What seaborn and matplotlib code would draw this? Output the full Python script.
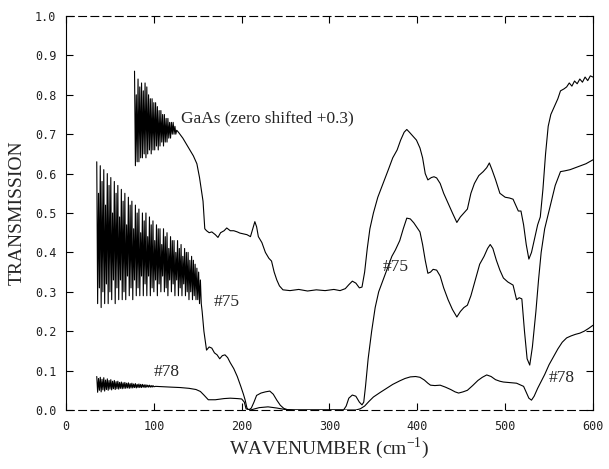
import numpy as np
import pandas as pd
import matplotlib
matplotlib.use("Agg")
import matplotlib.pyplot as plt
import seaborn as sns

# ---------------- data ----------------
# GaAs (zero shifted +0.3): interference fringes, one value per wavenumber 78..126
gaas_osc_x0, gaas_osc_x1 = 78, 126
gaas_osc = [0.86, 0.62, 0.80, 0.63, 0.84, 0.63, 0.82, 0.64, 0.83, 0.64,
            0.81, 0.65, 0.83, 0.64, 0.82, 0.65, 0.80, 0.66, 0.79, 0.65,
            0.79, 0.66, 0.78, 0.66, 0.78, 0.67, 0.77, 0.66, 0.76, 0.67,
            0.76, 0.68, 0.75, 0.67, 0.75, 0.68, 0.74, 0.68, 0.74, 0.69,
            0.73, 0.69, 0.73, 0.70, 0.73, 0.70, 0.72, 0.70, 0.71]
gaas_x = [128, 133, 137, 141, 145, 149, 152, 154, 156, 158, 160, 163, 166, 170,
          173, 176, 180, 183, 187, 191, 195, 198, 202, 206, 210, 212, 215, 217,
          219, 223, 227, 231, 234, 237, 240, 243, 247, 255, 265, 275, 285, 295,
          305, 312, 318, 322, 326, 330, 334, 337, 340, 343, 346, 350, 355, 361,
          367, 372, 377, 381, 385, 388, 391, 395, 399, 403, 406, 409, 412, 416,
          419, 422, 426, 430, 435, 440, 445, 449, 453, 457, 461, 465, 470, 475,
          479, 482, 485, 489, 494, 500, 505, 509, 512, 515, 518, 521, 524, 527,
          530, 534, 537, 540, 543, 546, 549, 552, 556, 560, 563, 567, 570, 573,
          576, 579, 582, 585, 588, 591, 594, 597, 600]
gaas_y = [0.705, 0.69, 0.675, 0.66, 0.645, 0.625, 0.59, 0.56, 0.53, 0.46, 0.455,
          0.45, 0.452, 0.445, 0.438, 0.45, 0.455, 0.462, 0.455, 0.455, 0.452,
          0.449, 0.447, 0.445, 0.44, 0.455, 0.478, 0.465, 0.44, 0.425, 0.40,
          0.385, 0.378, 0.35, 0.33, 0.315, 0.305, 0.303, 0.306, 0.302, 0.305,
          0.303, 0.306, 0.303, 0.308, 0.318, 0.327, 0.322, 0.31, 0.312, 0.35,
          0.41, 0.46, 0.50, 0.54, 0.575, 0.61, 0.64, 0.66, 0.685, 0.705, 0.712,
          0.705, 0.695, 0.685, 0.665, 0.64, 0.60, 0.584, 0.59, 0.592, 0.589,
          0.575, 0.55, 0.525, 0.50, 0.476, 0.49, 0.50, 0.51, 0.55, 0.575, 0.595,
          0.605, 0.615, 0.627, 0.61, 0.585, 0.55, 0.54, 0.538, 0.535, 0.52,
          0.505, 0.505, 0.47, 0.42, 0.383, 0.40, 0.44, 0.47, 0.49, 0.56, 0.65,
          0.72, 0.75, 0.77, 0.79, 0.81, 0.815, 0.82, 0.83, 0.822, 0.835, 0.828,
          0.84, 0.832, 0.845, 0.836, 0.848, 0.845]

# Sample #75: fringes 35..154, one value per wavenumber
s75_osc_x0, s75_osc_x1 = 35, 154
s75_osc = [0.63, 0.27, 0.55, 0.31, 0.62, 0.26, 0.58, 0.30, 0.61, 0.27,
           0.52, 0.32, 0.60, 0.27, 0.57, 0.30, 0.59, 0.28, 0.50, 0.33,
           0.58, 0.27, 0.55, 0.31, 0.57, 0.28, 0.49, 0.33, 0.56, 0.28,
           0.53, 0.30, 0.55, 0.28, 0.47, 0.34, 0.54, 0.29, 0.52, 0.31,
           0.53, 0.28, 0.46, 0.33, 0.52, 0.29, 0.50, 0.31, 0.51, 0.29,
           0.45, 0.34, 0.50, 0.29, 0.48, 0.32, 0.50, 0.29, 0.44, 0.34,
           0.49, 0.29, 0.47, 0.31, 0.48, 0.30, 0.43, 0.33, 0.47, 0.29,
           0.46, 0.32, 0.46, 0.30, 0.42, 0.34, 0.46, 0.30, 0.44, 0.31,
           0.45, 0.29, 0.41, 0.33, 0.44, 0.30, 0.43, 0.32, 0.43, 0.29,
           0.40, 0.33, 0.43, 0.29, 0.41, 0.31, 0.42, 0.29, 0.39, 0.32,
           0.41, 0.29, 0.40, 0.30, 0.40, 0.28, 0.38, 0.30, 0.39, 0.28,
           0.38, 0.29, 0.37, 0.28, 0.36, 0.28, 0.35, 0.27, 0.33, 0.27]
s75_x = [155, 157, 160, 163, 166, 169, 172, 175, 178, 181, 184, 187, 191, 195,
         199, 202, 204, 206, 208, 211, 214, 217, 222, 227, 232, 236, 240, 244,
         248, 252, 260, 280, 300, 316, 319, 322, 326, 330, 334, 337, 339, 341,
         344, 348, 352, 356, 361, 366, 371, 375, 380, 384, 388, 392, 396, 400,
         403, 406, 409, 412, 415, 418, 422, 426, 430, 435, 440, 445, 449, 453,
         457, 461, 466, 471, 476, 480, 483, 486, 490, 494, 498, 503, 509, 513,
         516, 519, 522, 525, 528, 531, 535, 538, 541, 545, 551, 557, 563, 568,
         574, 580, 586, 592, 600]
s75_y = [0.25, 0.20, 0.152, 0.16, 0.157, 0.145, 0.14, 0.13, 0.138, 0.14, 0.133,
         0.12, 0.105, 0.085, 0.06, 0.04, 0.025, 0.005, 0.0, 0.005, 0.02, 0.037,
         0.043, 0.046, 0.048, 0.04, 0.025, 0.012, 0.004, 0.001, 0.0, 0.0, 0.0,
         0.0, 0.01, 0.03, 0.038, 0.035, 0.02, 0.013, 0.02, 0.06, 0.13, 0.20,
         0.26, 0.30, 0.33, 0.36, 0.39, 0.406, 0.43, 0.46, 0.487, 0.485, 0.475,
         0.462, 0.452, 0.42, 0.38, 0.347, 0.35, 0.357, 0.355, 0.34, 0.31, 0.28,
         0.255, 0.236, 0.25, 0.26, 0.266, 0.29, 0.33, 0.37, 0.39, 0.41, 0.42,
         0.41, 0.38, 0.355, 0.335, 0.325, 0.317, 0.28, 0.285, 0.282, 0.20, 0.13,
         0.114, 0.16, 0.25, 0.33, 0.40, 0.46, 0.515, 0.57, 0.605, 0.607, 0.61,
         0.615, 0.62, 0.625, 0.635]

# Sample #78: fringes 35..100, one value per wavenumber
s78_osc_x0, s78_osc_x1 = 35, 100
s78_osc = [0.085, 0.045, 0.080, 0.050, 0.083, 0.046, 0.078, 0.051, 0.082, 0.048,
           0.076, 0.052, 0.079, 0.050, 0.075, 0.053, 0.077, 0.051, 0.073, 0.054,
           0.075, 0.052, 0.072, 0.054, 0.073, 0.053, 0.070, 0.055, 0.071, 0.054,
           0.069, 0.055, 0.070, 0.055, 0.068, 0.056, 0.069, 0.055, 0.067, 0.056,
           0.068, 0.056, 0.066, 0.057, 0.067, 0.056, 0.065, 0.057, 0.066, 0.057,
           0.065, 0.057, 0.065, 0.058, 0.064, 0.057, 0.064, 0.058, 0.063, 0.058,
           0.063, 0.058, 0.062, 0.058, 0.062, 0.059]
s78_x = [102, 110, 120, 130, 140, 148, 153, 157, 162, 170, 180, 187, 195, 200,
         203, 205, 210, 215, 220, 230, 240, 250, 260, 330, 335, 340, 345, 350,
         358, 365, 372, 380, 386, 392, 398, 403, 408, 412, 415, 420, 426, 432,
         438, 443, 447, 452, 457, 463, 469, 474, 479, 484, 489, 494, 498, 503,
         508, 513, 517, 521, 524, 527, 530, 533, 537, 540, 545, 550, 555, 560,
         565, 570, 575, 580, 585, 590, 595, 600]
s78_y = [0.06, 0.059, 0.058, 0.057, 0.055, 0.052, 0.047, 0.038, 0.026, 0.026,
         0.029, 0.03, 0.029, 0.028, 0.02, 0.003, 0.0, 0.003, 0.006, 0.008, 0.005,
         0.001, 0.0, 0.0, 0.003, 0.01, 0.022, 0.033, 0.045, 0.055, 0.065, 0.074,
         0.08, 0.084, 0.085, 0.083, 0.076, 0.068, 0.063, 0.062, 0.063, 0.058,
         0.052, 0.046, 0.043, 0.046, 0.05, 0.062, 0.075, 0.083, 0.089, 0.085,
         0.077, 0.073, 0.071, 0.07, 0.069, 0.068, 0.064, 0.06, 0.045, 0.03,
         0.025, 0.035, 0.055, 0.068, 0.09, 0.115, 0.135, 0.155, 0.172, 0.183,
         0.188, 0.192, 0.195, 0.2, 0.207, 0.215]

x_ticks = [0, 100, 200, 300, 400, 500, 600]
y_ticks = [0.0, 0.1, 0.2, 0.3, 0.4, 0.5, 0.6, 0.7, 0.8, 0.9, 1.0]


def build(name, x0, x1, osc, xs, ys):
    ox = np.linspace(x0, x1, len(osc))
    return pd.DataFrame({"wavenumber": np.concatenate([ox, xs]),
                         "transmission": np.concatenate([osc, ys]),
                         "series": name})


frames = [build("GaAs", gaas_osc_x0, gaas_osc_x1, gaas_osc, gaas_x, gaas_y),
          build("#75", s75_osc_x0, s75_osc_x1, s75_osc, s75_x, s75_y),
          build("#78", s78_osc_x0, s78_osc_x1, s78_osc, s78_x, s78_y)]

# ---------------- plot ----------------
sns.set_theme(style="ticks")
plt.rcParams["font.family"] = ["Liberation Serif", "DejaVu Serif"]
plt.rcParams["mathtext.fontset"] = "custom"
plt.rcParams["mathtext.rm"] = "Liberation Serif"

fig = plt.figure(figsize=(6.09, 4.69), dpi=100)
ax = fig.add_axes([0.1084, 0.1258, 0.8653, 0.8401])

for df in frames:
    sns.lineplot(data=df, x="wavenumber", y="transmission", ax=ax,
                 estimator=None, sort=False, color="black", linewidth=0.8)

ax.set_xlim(0, 600)
ax.set_ylim(0, 1.0)
ax.set_xticks(x_ticks)
ax.set_yticks(y_ticks)
ax.set_yticklabels([f"{v:.1f}" for v in y_ticks])
ax.tick_params(direction="in", length=5, width=0.8, color="black",
               top=True, right=True, pad=7)
for lab in ax.get_xticklabels() + ax.get_yticklabels():
    lab.set_fontfamily("DejaVu Sans Mono")
    lab.set_fontsize(8.5)
    lab.set_color("#222222")

for side, sp in ax.spines.items():
    sp.set_visible(True)
    sp.set_color("black")
    sp.set_linewidth(0.8)
ax.spines["top"].set_linestyle((0, (7, 4)))
ax.spines["bottom"].set_linestyle((0, (7, 4)))

ax.set_xlabel(r"WAVENUMBER (cm$^{\mathregular{-1}}$)", fontsize=14,
              labelpad=2, fontfamily="Liberation Serif")
ax.set_ylabel("TRANSMISSION", fontsize=14, labelpad=7,
              fontfamily="Liberation Serif")

ax.text(131, 0.739, "GaAs (zero shifted +0.3)", fontsize=12.5, va="center",
        ha="left")
ax.text(168, 0.274, "#75", fontsize=12.5, va="center", ha="left")
ax.text(360, 0.363, "#75", fontsize=12.5, va="center", ha="left")
ax.text(100, 0.097, "#78", fontsize=12.5, va="center", ha="left")
ax.text(550, 0.080, "#78", fontsize=12.5, va="center", ha="left")

fig.savefig("out.png", dpi=100)
